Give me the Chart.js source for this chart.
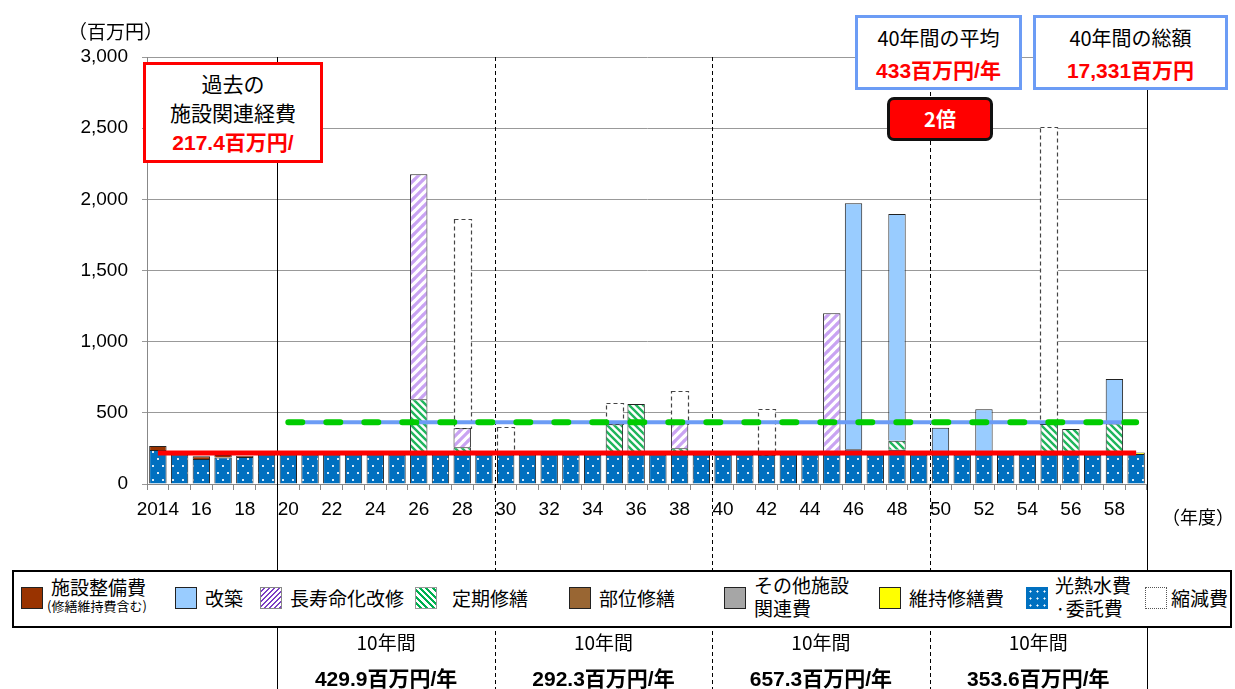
<!DOCTYPE html>
<html>
<head>
<meta charset="utf-8">
<script src="https://cdn.jsdelivr.net/npm/chart.js@4.4.0/dist/chart.umd.min.js"></script>
<style>
body { margin: 0; background: #fff; }
#wrap { position: relative; width: 1235px; height: 689px; overflow: hidden; font-family: "Noto Sans CJK JP", sans-serif; color: #000; }
#c { position: absolute; left: 0; top: 0; }
.abs { position: absolute; }
.box { position: absolute; box-sizing: border-box; background: #fff; text-align: center; }
.red { color: #ff0000; font-weight: bold; font-family: "Liberation Sans", "Noto Sans CJK JP", sans-serif; }
#legend { position: absolute; left: 12px; top: 570px; width: 1220px; height: 58px; box-sizing: border-box; border: 2px solid #000; background: #fff; }
.sw { position: absolute; top: 15px; width: 22px; height: 22px; box-sizing: border-box; border: 1px solid #222; }
.lt { position: absolute; font-size: 19px; line-height: 22px; white-space: nowrap; }
.col { position: absolute; width: 200px; margin-left: -100px; text-align: center; white-space: nowrap; }
</style>
</head>
<body>
<div id="wrap">
<canvas id="c" width="1235" height="689"></canvas>

<div class="abs" style="left:68px;top:17px;font-size:19px;">（百万円）</div>
<div class="abs" style="left:1162px;top:503px;font-size:18px;">（年度）</div>

<div class="box" style="left:143px;top:62px;width:180px;height:101px;border:3px solid #ff0000;font-size:21px;line-height:29px;padding-top:4px;">
  過去の<br>施設関連経費<br><span class="red" style="font-size:21px;">217.4百万円/</span>
</div>
<div class="box" style="left:855px;top:15px;width:167px;height:75px;border:3px solid #6c9cf5;font-size:20px;line-height:32px;padding-top:4px;">
  40年間の平均<br><span class="red" style="font-size:21px;">433百万円/年</span>
</div>
<div class="box" style="left:1033px;top:15px;width:195px;height:75px;border:3px solid #6c9cf5;font-size:20px;line-height:32px;padding-top:4px;">
  40年間の総額<br><span class="red" style="font-size:21px;">17,331百万円</span>
</div>
<div class="box" style="left:887px;top:97px;width:106px;height:44px;border:3px solid #111;border-radius:7px;background:#ff0000;color:#fff;font-weight:bold;font-size:20px;line-height:38px;">2倍</div>

<div id="legend">
  <div class="sw" style="left:7px;background:#993300;"></div>
  <div class="lt" style="left:37px;top:4px;">施設整備費</div>
  <div class="lt" style="left:33px;top:26px;font-size:13px;line-height:16px;">(修繕維持費含む)</div>

  <div class="sw" style="left:161px;background:#99ccff;"></div>
  <div class="lt" style="left:191px;top:15px;">改築</div>

  <div class="sw" style="left:246px;border-color:#888;background:repeating-linear-gradient(135deg,#fff 0 2px,#7b3fc4 2px 3.5px);"></div>
  <div class="lt" style="left:276px;top:15px;">長寿命化改修</div>

  <div class="sw" style="left:401px;border-color:#999;background:repeating-linear-gradient(45deg,#fff 0 2.5px,#00b050 2.5px 4.5px);"></div>
  <div class="lt" style="left:438px;top:15px;">定期修繕</div>

  <div class="sw" style="left:555px;background:#996633;"></div>
  <div class="lt" style="left:585px;top:15px;">部位修繕</div>

  <div class="sw" style="left:710px;background:#a6a6a6;"></div>
  <div class="lt" style="left:740px;top:2px;">その他施設</div>
  <div class="lt" style="left:740px;top:25px;">関連費</div>

  <div class="sw" style="left:865px;background:#ffff00;"></div>
  <div class="lt" style="left:895px;top:15px;">維持修繕費</div>

  <div class="sw" style="left:1012px;border-color:#0070c0;background-color:#0070c0;background-image:radial-gradient(#fff 0.8px,transparent 1.3px);background-size:7px 7px;"></div>
  <div class="lt" style="left:1041px;top:2px;">光熱水費</div>
  <div class="lt" style="left:1041px;top:25px;">·委託費</div>

  <div class="sw" style="left:1131px;border:1px dotted #555;background:#fff;"></div>
  <div class="lt" style="left:1157px;top:15px;">縮減費</div>
</div>

<div id="table"></div>
</div>

<script>
// 年度
const years = [2014, 2015, 2016, 2017, 2018, 2019, 2020, 2021, 2022, 2023,
               2024, 2025, 2026, 2027, 2028, 2029, 2030, 2031, 2032, 2033,
               2034, 2035, 2036, 2037, 2038, 2039, 2040, 2041, 2042, 2043,
               2044, 2045, 2046, 2047, 2048, 2049, 2050, 2051, 2052, 2053,
               2054, 2055, 2056, 2057, 2058, 2059];
const tickLabels = ['2014', '16', '18', '20', '22', '24', '26', '28', '30', '32', '34', '36',
                    '38', '40', '42', '44', '46', '48', '50', '52', '54', '56', '58'];

// 百万円
const utility    = [239, 205, 176, 186, 190, 205, 205, 205, 205, 205,
                    205, 205, 205, 205, 205, 205, 205, 205, 205, 205,
                    205, 205, 205, 205, 205, 205, 205, 205, 205, 205,
                    205, 205, 245, 205, 240, 205, 205, 205, 205, 205,
                    205, 205, 205, 205, 205, 210];
const facility   = [28, 0, 19, 18, 7, 0, 0, 0, 0, 0, 0, 0, 0, 0, 0, 0, 0, 0, 0, 0, 0, 0, 0,
                    0, 0, 0, 0, 0, 0, 0, 0, 0, 0, 0, 0, 0, 0, 0, 0, 0, 0, 0, 0, 0, 0, 0];
const partRepair = [0, 0, 0, 0, 0, 0, 0, 0, 0, 0, 0, 0, 0, 0, 0, 0, 0, 0, 0, 0, 0, 0, 0,
                    0, 0, 0, 0, 0, 0, 0, 0, 0, 0, 0, 0, 0, 0, 0, 0, 0, 0, 0, 0, 0, 0, 0];
const otherCost  = [0, 0, 0, 0, 0, 0, 0, 0, 0, 0, 0, 0, 0, 0, 0, 0, 0, 0, 0, 0, 0, 0, 0,
                    0, 0, 0, 0, 0, 0, 0, 0, 0, 0, 0, 0, 0, 0, 0, 0, 0, 0, 0, 0, 0, 0, 0];
const maintCost  = [0, 0, 0, 0, 0, 0, 0, 0, 0, 0, 0, 0, 0, 0, 0, 0, 0, 0, 0, 0, 0, 0, 0,
                    0, 0, 0, 0, 0, 0, 0, 0, 0, 0, 0, 0, 0, 0, 0, 0, 0, 0, 0, 0, 0, 0, 12];
const periodic   = [0, 0, 0, 0, 0, 0, 0, 0, 0, 0, 0, 0, 390, 0, 53, 0, 0, 0, 0, 0, 0, 214, 357,
                    0, 46, 0, 0, 0, 0, 0, 0, 0, 0, 0, 64, 0, 0, 0, 0, 0, 0, 217, 181, 0, 220, 0];
const longLife   = [0, 0, 0, 0, 0, 0, 0, 0, 0, 0, 0, 0, 1581, 0, 133, 0, 0, 0, 0, 0, 0, 0, 0,
                    0, 175, 0, 0, 0, 0, 0, 0, 994, 0, 0, 0, 0, 0, 0, 0, 0, 0, 0, 0, 0, 0, 0];
const rebuild    = [0, 0, 0, 0, 0, 0, 0, 0, 0, 0, 0, 0, 0, 0, 0, 0, 0, 0, 0, 0, 0, 0, 0,
                    0, 0, 0, 0, 0, 0, 0, 0, 0, 1727, 0, 1593, 0, 191, 0, 320, 0, 0, 0, 0, 0, 313, 0];
const reduction  = [0, 0, 0, 0, 0, 0, 0, 0, 0, 0, 0, 0, 0, 0, 1469, 0, 193, 0, 0, 0, 0, 148, 0,
                    0, 230, 0, 0, 0, 320, 0, 0, 0, 0, 0, 0, 0, 0, 0, 0, 0, 0, 2089, 0, 0, 0, 0];

const pastAvg = 217.4;
const futureAvg = 433;
const futureStart = 2020;
const decadeStarts = [2020, 2030, 2040, 2050];
const decadeAvgs = ['429.9', '292.3', '657.3', '353.6'];

function makePattern(kind) {
  const c = document.createElement('canvas');
  const g = c.getContext('2d');
  if (kind === 'dots') {
    c.width = 10; c.height = 14;
    g.fillStyle = '#0070c0'; g.fillRect(0, 0, 10, 14);
    g.fillStyle = 'rgba(255,255,255,0.85)';
    g.fillRect(2, 3, 2, 2); g.fillRect(7, 10, 2, 2);
  } else {
    const s = kind === 'purple' ? 9 : 7;
    c.width = s; c.height = s;
    g.fillStyle = '#fff'; g.fillRect(0, 0, s, s);
    g.strokeStyle = kind === 'purple' ? '#c9a3f2' : '#1fb55c';
    g.lineWidth = kind === 'purple' ? 3.2 : 2.4;
    g.beginPath();
    if (kind === 'purple') {
      g.moveTo(-1, 1); g.lineTo(1, -1);
      g.moveTo(0, s); g.lineTo(s, 0);
      g.moveTo(s - 1, s + 1); g.lineTo(s + 1, s - 1);
    } else {
      g.moveTo(0, 0); g.lineTo(s, s);
      g.moveTo(-1, s - 1); g.lineTo(1, s + 1);
      g.moveTo(s - 1, -1); g.lineTo(s + 1, 1);
    }
    g.stroke();
  }
  return g.createPattern(c, 'repeat');
}

const labels = years.map(String);
const nz = arr => arr.map(v => v || null);

function bar(label, data, bg, extra) {
  return Object.assign({
    type: 'bar', label: label, data: nz(data), backgroundColor: bg,
    borderColor: '#222', borderWidth: 1, barPercentage: 0.8, categoryPercentage: 1,
    stack: 'cost', order: 1
  }, extra || {});
}

const reductionIndex = 8;

// 縮減費の点線枠とグラフ下の区切り線
const extras = {
  id: 'extras',
  beforeDatasetsDraw(chart) {
    const x = chart.scales.x, area = chart.chartArea, ctx = chart.ctx;
    const step = x.getPixelForValue(1) - x.getPixelForValue(0);
    ctx.save();
    ctx.strokeStyle = '#000';
    ctx.lineWidth = 1;
    decadeStarts.forEach((yr, i) => {
      const px = Math.round(x.getPixelForValue(years.indexOf(yr)) - step / 2) + 0.5;
      ctx.setLineDash(i === 0 ? [] : [4, 3]);
      ctx.beginPath(); ctx.moveTo(px, area.top); ctx.lineTo(px, chart.height); ctx.stroke();
    });
    ctx.setLineDash([]);
    const rx = Math.round(area.right) + 0.5;
    ctx.beginPath(); ctx.moveTo(rx, area.top); ctx.lineTo(rx, chart.height); ctx.stroke();
    ctx.restore();
  },
  afterDatasetDraw(chart, args) {
    if (args.index !== reductionIndex) return;
    const ctx = chart.ctx;
    ctx.save();
    ctx.strokeStyle = '#444';
    ctx.lineWidth = 1.2;
    ctx.setLineDash([4, 3]);
    args.meta.data.forEach((el, i) => {
      if (!reduction[i]) return;
      const left = el.x - el.width / 2;
      ctx.strokeRect(Math.round(left) + 0.5, Math.round(el.y) + 0.5, Math.round(el.width), Math.round(el.base - el.y));
    });
    ctx.restore();
  }
};

const chart = new Chart(document.getElementById('c'), {
  data: {
    labels: labels,
    datasets: [
      bar('光熱水費・委託費', utility, makePattern('dots')),
      bar('施設整備費', facility, '#993300'),
      bar('部位修繕', partRepair, '#996633'),
      bar('その他施設関連費', otherCost, '#a6a6a6'),
      bar('維持修繕費', maintCost, '#ffff00'),
      bar('定期修繕', periodic, makePattern('green')),
      bar('長寿命化改修', longLife, makePattern('purple')),
      bar('改築', rebuild, '#99ccff'),
      bar('縮減費', reduction, '#ffffff', { borderWidth: 0 }),
      {
        type: 'line', label: '過去の平均',
        data: [{ x: labels[0], y: pastAvg }, { x: labels[labels.length - 1], y: pastAvg }],
        borderColor: '#ff0000', borderWidth: 5, pointRadius: 0, stack: 'past', order: 0
      },
      {
        type: 'line', label: '40年間の平均(緑)',
        data: [{ x: String(futureStart), y: futureAvg }, { x: labels[labels.length - 1], y: futureAvg }],
        borderColor: '#00cc00', borderWidth: 6, borderDash: [14, 24], borderCapStyle: 'round',
        pointRadius: 0, stack: 'avgG', order: 0
      },
      {
        type: 'line', label: '40年間の平均',
        data: [{ x: String(futureStart), y: futureAvg }, { x: labels[labels.length - 1], y: futureAvg }],
        borderColor: '#6c9cf5', borderWidth: 4, pointRadius: 0, stack: 'avgB', order: 0.5
      }
    ]
  },
  options: {
    responsive: false,
    animation: false,
    devicePixelRatio: 1,
    layout: { padding: { left: 37, top: 57, right: 88, bottom: 0 } },
    plugins: { legend: { display: false }, tooltip: { enabled: false } },
    scales: {
      x: {
        stacked: true,
        offset: true,
        grid: { offset: true, drawOnChartArea: false, drawTicks: true, tickLength: 6, color: '#888' },
        border: { color: '#888' },
        ticks: {
          autoSkip: false, maxRotation: 0, padding: 8, color: '#000',
          font: { size: 19, family: 'Liberation Sans' },
          callback: (v, i) => (i % 2 === 0 ? tickLabels[i / 2] : '')
        },
        afterFit: s => { s.height = 205; }
      },
      y: {
        stacked: true,
        min: 0, max: 3000,
        grid: { color: '#999', tickLength: 5 },
        border: { color: '#888' },
        ticks: {
          stepSize: 500, padding: 14, color: '#000',
          font: { size: 19, family: 'Liberation Sans' },
          callback: v => v.toLocaleString('en-US')
        },
        afterFit: s => { s.width = 110; }
      }
    }
  },
  plugins: [extras]
});

// 10年間ごとの平均表
const table = document.getElementById('table');
const xs = chart.scales.x;
decadeStarts.forEach((yr, i) => {
  const i0 = years.indexOf(yr);
  const cx = (xs.getPixelForValue(i0) + xs.getPixelForValue(i0 + 9)) / 2;
  const a = document.createElement('div');
  a.className = 'col';
  a.style.left = cx + 'px'; a.style.top = '628px'; a.style.fontSize = '19px';
  a.textContent = '10年間';
  const b = document.createElement('div');
  b.className = 'col';
  b.style.left = cx + 'px'; b.style.top = '662px'; b.style.fontSize = '21px'; b.style.fontWeight = 'bold';
  b.style.fontFamily = '"Liberation Sans Narrow","Liberation Sans","Noto Sans CJK JP",sans-serif';
  b.textContent = decadeAvgs[i] + '百万円/年';
  table.appendChild(a); table.appendChild(b);
});
</script>
</body>
</html>
